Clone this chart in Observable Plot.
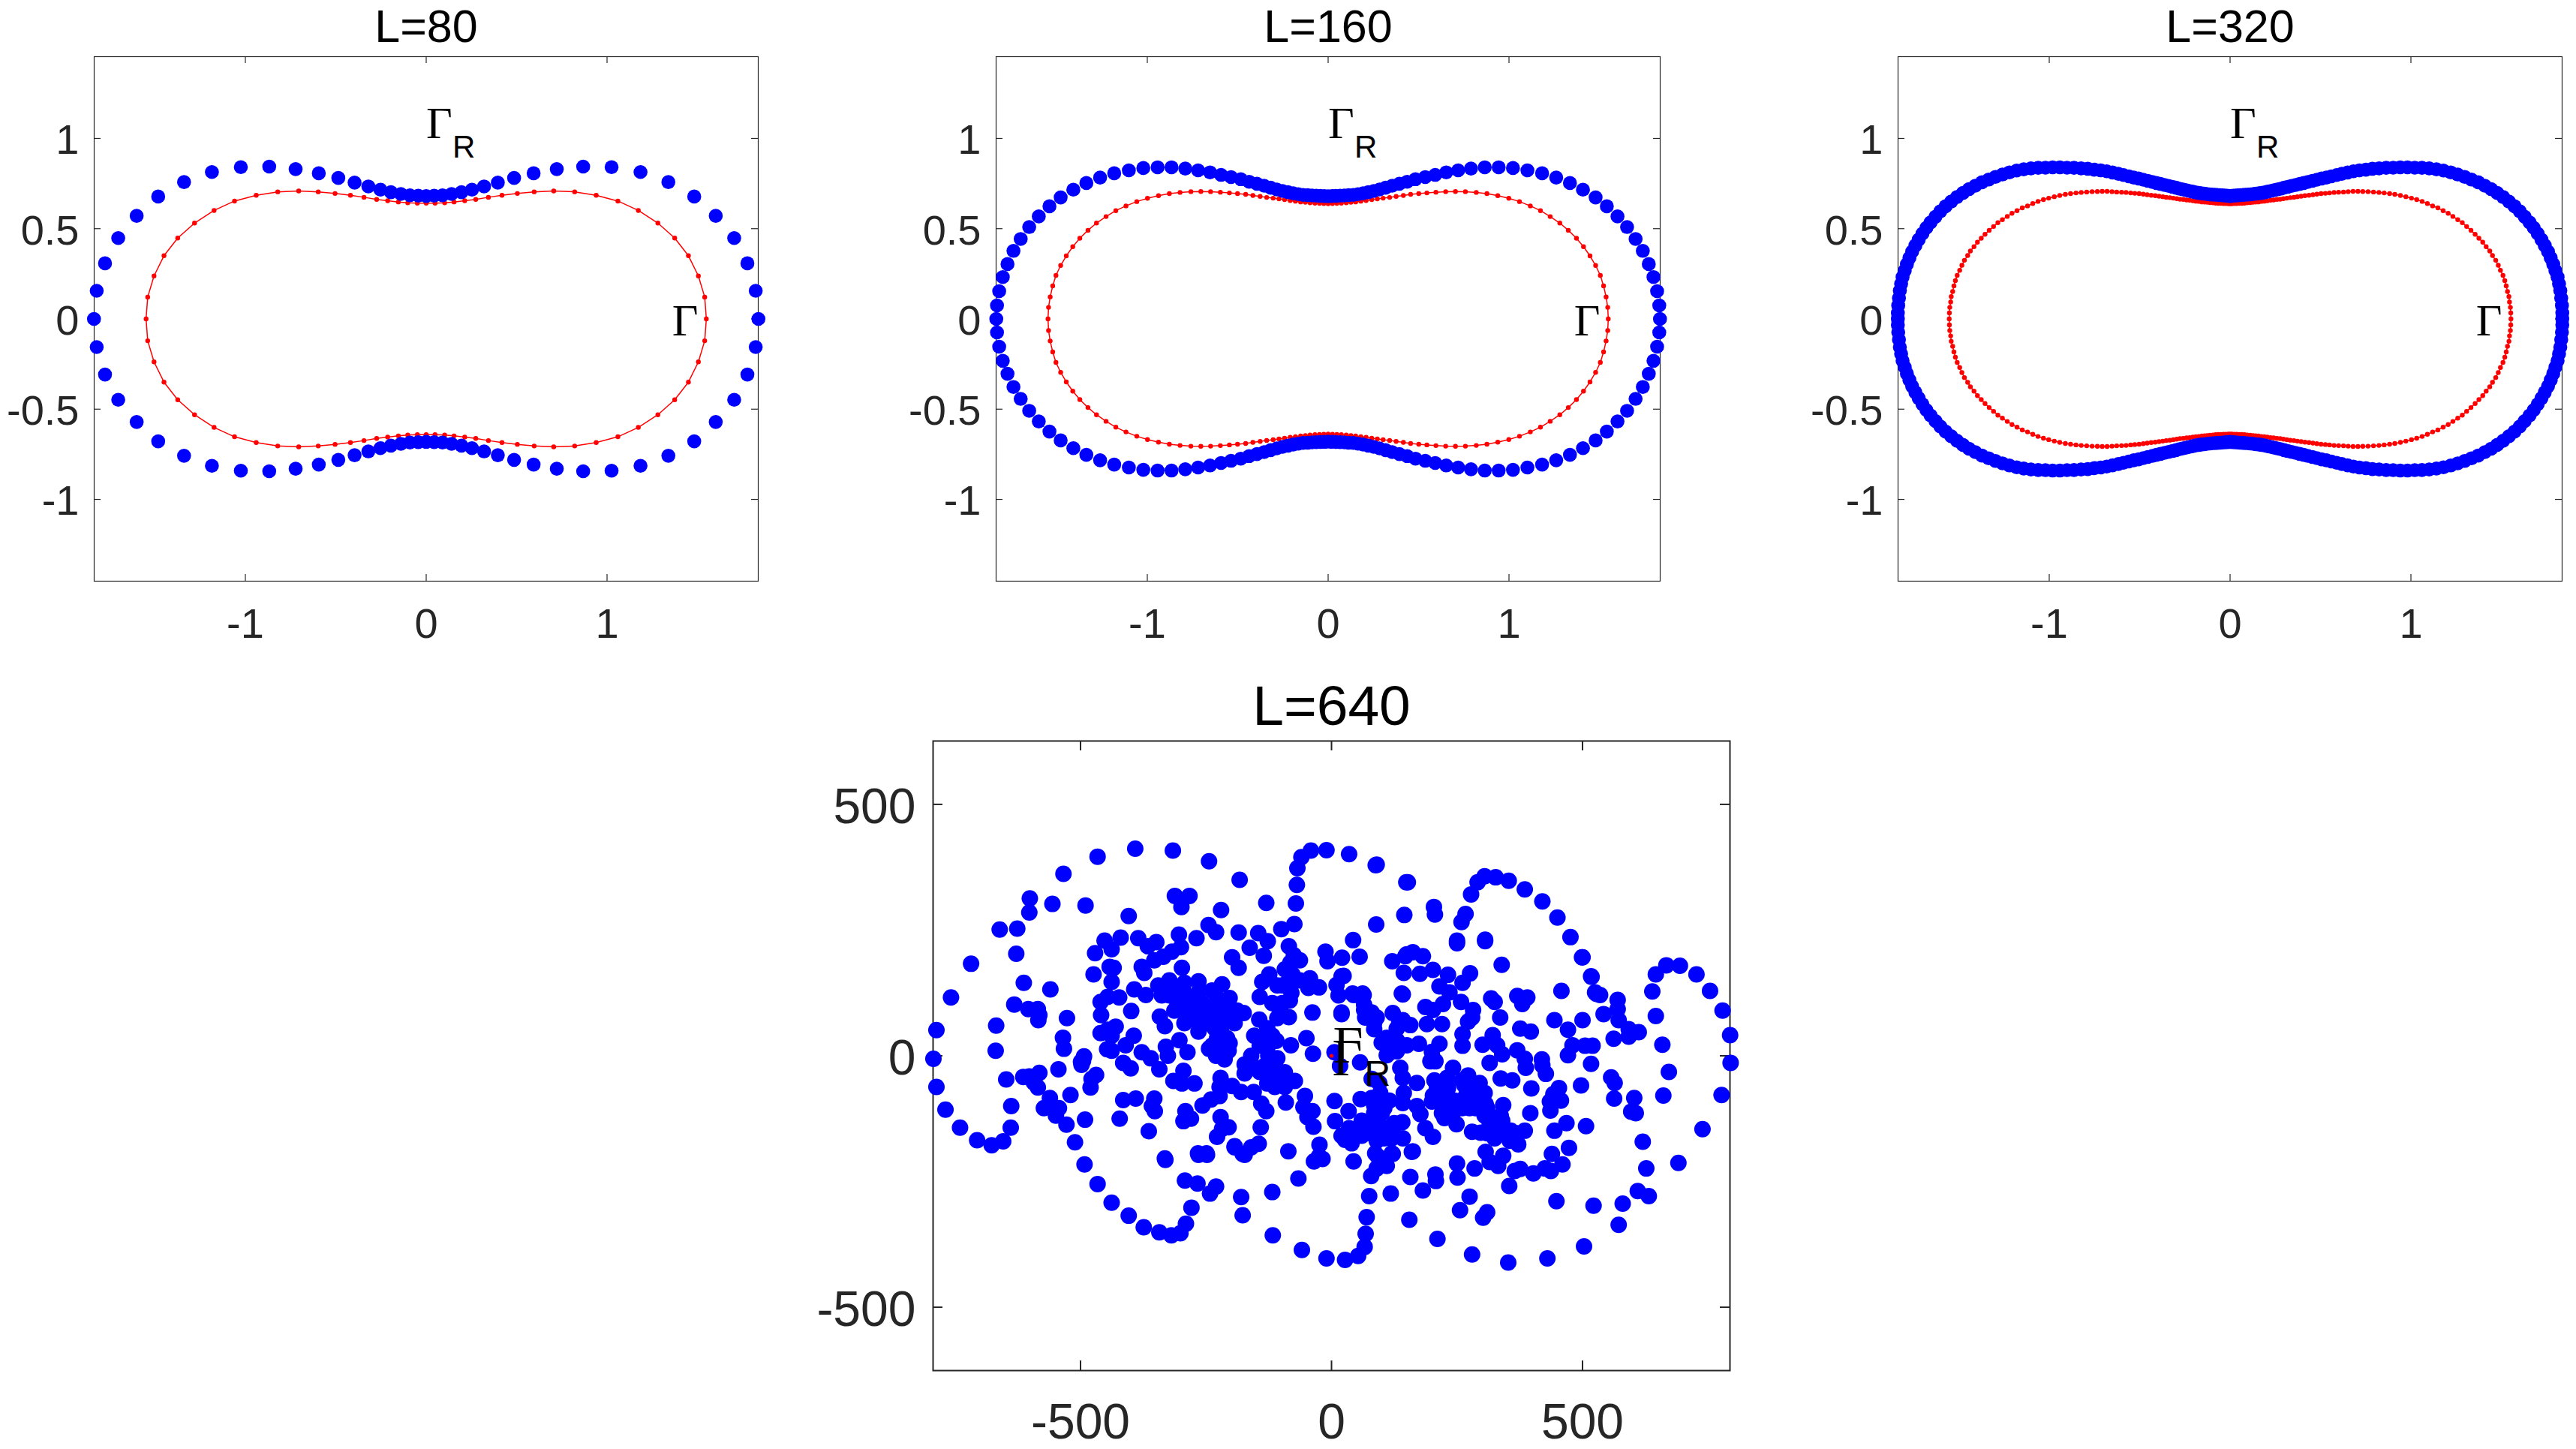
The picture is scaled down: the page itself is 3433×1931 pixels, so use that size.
<!DOCTYPE html>
<html><head><meta charset="utf-8">
<style>html,body{margin:0;background:#fff}#page{position:relative;width:3433px;height:1931px;overflow:hidden;background:#fff}#page svg{position:absolute;overflow:visible;max-width:none}</style>
<script src="https://cdn.jsdelivr.net/npm/d3@7"></script>
<script src="https://cdn.jsdelivr.net/npm/@observablehq/plot@0.6"></script>
</head><body><div id="page"></div>
<script>
// First-quadrant readings (x, y) for the closed curves; the curves are symmetric in both axes.
const gammaR80=[[1.837,0],[1.822,.156],[1.776,.308],[1.703,.448],[1.601,.571],[1.482,.678],[1.339,.758],[1.185,.814],[1.025,.841],[.868,.844],[.722,.83],[.594,.807],[.486,.781],[.396,.755],[.32,.734],[.253,.716],[.195,.702],[.14,.692],[.09,.685],[.044,.683],[0,.681]];
const gamma80=[[1.549,0],[1.54,.121],[1.505,.238],[1.45,.35],[1.374,.448],[1.281,.531],[1.173,.601],[1.06,.653],[.94,.685],[.821,.704],[.705,.709],[.597,.704],[.504,.695],[.419,.685],[.344,.674],[.274,.662],[.213,.655],[.154,.648],[.102,.643],[.049,.641],[0,.641]];
const gammaR160=[[1.835,0],[1.831,.075],[1.819,.154],[1.799,.232],[1.773,.304],[1.74,.377],[1.7,.443],[1.653,.509],[1.6,.568],[1.541,.624],[1.479,.673],[1.409,.716],[1.337,.753],[1.261,.783],[1.183,.807],[1.102,.823],[1.022,.836],[.943,.84],[.866,.84],[.79,.833],[.719,.823],[.653,.812],[.592,.798],[.537,.786],[.483,.774],[.437,.76],[.394,.749],[.354,.738],[.318,.727],[.284,.717],[.252,.709],[.222,.702],[.193,.696],[.165,.691],[.139,.687],[.113,.686],[.089,.684],[.066,.683],[.043,.682],[.021,.681],[0,.68]];
const gamma160=[[1.549,0],[1.546,.064],[1.537,.122],[1.523,.183],[1.505,.241],[1.479,.296],[1.448,.349],[1.412,.4],[1.373,.447],[1.328,.491],[1.281,.531],[1.228,.567],[1.174,.6],[1.118,.626],[1.058,.65],[.999,.668],[.938,.683],[.878,.694],[.819,.701],[.759,.705],[.704,.706],[.65,.705],[.596,.702],[.546,.698],[.501,.694],[.456,.69],[.416,.684],[.376,.679],[.34,.673],[.304,.669],[.272,.665],[.241,.661],[.21,.656],[.181,.652],[.152,.648],[.126,.646],[.1,.643],[.073,.641],[.048,.64],[.024,.639],[0,.638]];
const gammaR320=[[1.837,0],[1.837,.033],[1.835,.074],[1.831,.115],[1.826,.157],[1.819,.194],[1.811,.232],[1.799,.267],[1.787,.303],[1.773,.338],[1.758,.373],[1.74,.407],[1.722,.439],[1.701,.473],[1.679,.505],[1.656,.535],[1.629,.566],[1.602,.596],[1.573,.624],[1.542,.65],[1.51,.675],[1.477,.698],[1.444,.719],[1.409,.738],[1.372,.757],[1.335,.772],[1.297,.787],[1.259,.8],[1.22,.812],[1.18,.822],[1.141,.829],[1.101,.834],[1.061,.837],[1.021,.838],[.981,.84],[.941,.84],[.902,.838],[.863,.837],[.824,.834],[.787,.832],[.751,.827],[.715,.823],[.682,.818],[.65,.811],[.618,.804],[.589,.797],[.56,.79],[.533,.783],[.506,.778],[.48,.771],[.455,.765],[.43,.759],[.407,.753],[.385,.748],[.362,.742],[.34,.737],[.319,.732],[.299,.727],[.279,.721],[.26,.717],[.242,.713],[.225,.709],[.207,.705],[.191,.701],[.174,.698],[.159,.696],[.144,.694],[.129,.692],[.113,.69],[.1,.689],[.084,.688],[.071,.687],[.057,.686],[.043,.685],[.03,.684],[.017,.683],[.006,.682],[0,.681]];
const gamma320=[[1.553,0],[1.552,.033],[1.55,.064],[1.545,.094],[1.542,.124],[1.534,.152],[1.527,.183],[1.519,.212],[1.509,.241],[1.495,.269],[1.483,.297],[1.469,.325],[1.451,.351],[1.436,.376],[1.416,.4],[1.397,.425],[1.376,.447],[1.355,.469],[1.332,.491],[1.308,.512],[1.284,.533],[1.259,.55],[1.232,.568],[1.206,.585],[1.178,.6],[1.149,.615],[1.12,.626],[1.091,.639],[1.062,.651],[1.032,.661],[1.003,.669],[.972,.677],[.942,.684],[.911,.69],[.882,.694],[.852,.698],[.823,.701],[.793,.703],[.763,.705],[.734,.706],[.707,.707],[.68,.707],[.653,.705],[.627,.703],[.6,.702],[.575,.701],[.55,.698],[.527,.696],[.503,.694],[.48,.691],[.458,.688],[.436,.685],[.414,.683],[.393,.68],[.372,.677],[.353,.674],[.333,.672],[.314,.669],[.295,.666],[.277,.663],[.259,.662],[.241,.659],[.224,.658],[.206,.655],[.189,.652],[.173,.651],[.156,.648],[.141,.647],[.126,.646],[.111,.644],[.095,.643],[.08,.641],[.065,.64],[.051,.64],[.037,.639],[.024,.639],[.01,.638],[0,.638]];
// L=640: scattered points, read one by one.
const gammaR640=[[-787,51],[-793,-6],[-758,116],[-718,183],[-661,251],[-626,253],[-628,203],[-601,313],[-602,285],[-556,302],[-534,362],[-490,299],[-466,396],[-391,412],[-316,408],[-244,387],[-183,350],[-613,145],[-560,132],[-632,102],[-604,93],[-585,93],[-582,81],[-584,71],[-527,75],[-668,60],[-669,10],[-535,36],[-533,14],[-493,-1],[-499,-12],[-452,229],[-471,204],[-474,162],
[-68,373],[-69,340],[-71,303],[90,380],[152,345],[145,280],[89,261],[-130,304],[-312,318],[-283,318],[-299,296],[-404,278],[-220,290],[-245,260],[-230,246],[-269,234],[-185,245],[-146,244],[-127,228],[-163,215],[-135,199],[-100,252],[-74,262],[-304,241],[-420,235],[-385,234],[-349,226],[-366,218],[-318,207],[-300,216],[-335,197],[-353,190],[-378,177],[-373,165],[-298,175],[-438,212],[-434,175],[-198,196],[-185,175],[-85,218],[-75,200],[-63,190],[-82,185],[-12,207],[-8,188],[21,195],[56,197],[43,230],[121,188],[144,165],[150,202],[24,159],[10,141],[14,120],[44,121],[64,121],[142,122],[-43,154],[-25,136],[-46,135],[-124,162],[-138,147],[-143,117],[-93,172],[-78,162],[-98,140],[-80,125],[-83,110],[-110,102],[-100,85],[-85,77],[-144,72],[-38,86],[20,83],[-218,142],[-238,130],[-393,132],[-423,116],[-370,121],[-438,147],[-399,89],[-323,150],[-345,140],[-318,135],[-293,145],[-265,148],[-338,120],[-308,110],[-278,115],[-313,90],[-288,85],[-268,75],[-273,100],[-253,90],[-233,95],[-206,105],[-175,85],[-198,80],[-223,75],[-248,65],[-265,48],[-193,65],[-218,60],[-342,78],[-332,59],[-430,58],[-438,40],[-394,40],[-410,21],[-438,10],[-378,7],[-360,-5],[-343,-27],[-415,-14],[-400,-25],[-330,18],[-303,31],[-326,0],[-287,7],[-208,35],[-225,29],[-244,14],[-218,12],[-230,0],[-213,-7],[-205,10],[-154,40],[-138,35],[-118,40],[-110,30],[-128,15],[-143,20],[-81,21],[-50,35],[-37,4],[-160,0],[-173,-17],[-173,-35],[-113,-13],[-133,-20],[-143,-32],[-126,-45],[-108,-35],[-93,-33],[-73,-50],[-93,-62],[-113,-62],[6,7],[17,-20],[57,-13],[-295,-30],[-315,-50],[-298,-55],[-273,-55],[-221,-44],[-223,-62],[-198,-60],[-180,-72],[-155,-72],[-415,-88],[-390,-85],[-353,-85],[-358,-100],[-352,-110],[-223,-80],[-240,-87],[-257,-99],[-140,-95],[-130,-110],[-91,-93],[-53,-80],[-56,-102],[-38,-110],[-48,-122],[-36,-141],[-291,-110],[-280,-125],[-295,-130],[-221,-122],[-218,-145],[-205,-142],[-228,-161],[-422,-125],[-364,-150],[-141,-142],[-145,-175],[-160,-182],[-193,-182],[-173,-197],[-331,-207],[-265,-197],[-248,-197],[-86,-190],[-24,-177],[-25,-200],[-35,-210],[44,-210],[92,-200],[122,-195],[162,-190],[6,-90],[58,-86],[34,-110],[7,-130],[62,-135],[37,-150],[27,-167],
[162,206],[147,198],[182,198],[176,163],[202,171],[232,161],[250,224],[306,228],[339,181],[500,196],[518,157],[276,164],[261,145],[215,138],[235,126],[140,124],[42,124],[62,124],[20,158],[258,107],[282,91],[222,103],[187,97],[318,114],[325,107],[336,76],[370,119],[390,116],[380,103],[458,129],[525,126],[535,121],[570,111],[570,93],[542,83],[572,71],[592,53],[592,38],[562,34],[444,71],[500,71],[471,52],[20,86],[65,101],[80,86],[67,76],[85,66],[85,53],[122,85],[142,71],[157,61],[130,54],[110,36],[130,31],[100,26],[202,91],[190,63],[220,63],[280,76],[272,68],[261,43],[261,20],[376,54],[397,48],[321,41],[301,22],[330,21],[315,-14],[340,3],[370,11],[385,-6],[419,-7],[387,-24],[427,-36],[420,-19],[471,1],[480,21],[505,20],[520,20],[517,-16],[174,24],[150,21],[215,24],[200,8],[110,1],[130,9],[197,-11],[207,-11],[137,-24],[142,-44],[170,-54],[144,-74],[142,-94],[80,-46],[97,-74],[115,-89],[85,-99],[170,-100],[177,-116],[187,-144],[202,-161],[141,-132],[122,-149],[90,-127],[60,-129],[35,-144],[60,-159],[85,-154],[110,-144],[142,-164],[90,-169],[40,-174],[20,-159],[120,-164],[87,-194],[120,-194],[160,-191],[110,-219],[90,-224],[79,-239],[242,-24],[205,-49],[230,-44],[272,-39],[295,-54],[305,-74],[202,-79],[220,-69],[200,-91],[225,-94],[260,-49],[280,-74],[265,-59],[287,-104],[307,-96],[275,-104],[225,-124],[249,-136],[245,-109],[342,-98],[337,-119],[305,-119],[322,-136],[310,-154],[280,-151],[297,-153],[337,-149],[357,-149],[385,-149],[372,-176],[355,-169],[325,-164],[307,-191],[342,-199],[315,-211],[332,-219],[337,-45],[360,-49],[398,-65],[453,-64],[442,-76],[457,-89],[435,-91],[436,-109],[497,-59],[557,-43],[564,-54],[563,-85],[603,-84],[597,-111],[396,-114],[468,-134],[444,-149],[507,-140],[473,-183],[439,-195],[460,-216],[437,-229],[425,-224],[402,-234],[376,-225],[365,-229],[354,-259],[250,-214],[251,-242],[285,-224],[207,-236],[208,-249],[182,-268],[157,-241],[75,-279],[118,-274],[275,-280],[256,-307],[310,-311],[302,-322],[448,-289],[522,-298],[580,-294],[572,-336],[610,-269],[70,-321],[155,-326],[68,-354],[211,-364],
[-41,408],[-60,395],[-10,409],[35,401],[88,379],[149,345],[204,296],[206,281],[267,282],[259,266],[250,229],[306,231],[278,321],[291,345],[305,357],[327,355],[353,348],[385,331],[420,307],[450,275],[476,236],[499,196],[517,158],[528,123],[646,162],[667,180],[694,179],[727,162],[754,129],[779,90],[794,41],[639,128],[646,79],[659,22],[795,-14],[612,47],
[672,-32],[661,-79],[777,-78],[739,-146],[691,-213],[620,-171],[606,-114],[627,-224],[632,-279],[503,-379],[430,-403],[352,-411],[280,-395],[66,-380],[53,-398],[27,-406],[-10,-403],[-59,-386],[-117,-357],[-118,-271],[-66,-244],[-18,-205],[-180,-281],[-177,-317],
[-787,-62],[-769,-107],[-740,-143],[-706,-168],[-677,-178],[-654,-170],[-639,-143],[-638,-100],[-648,-47],[-614,-42],[-602,-41],[-582,-34],[-593,-53],[-585,-63],[-573,-104],[-561,-84],[-549,-119],[-543,-104],[-528,-137],[-544,-27],[-495,-10],[-498,-18],[-520,-78],[-491,-127],[-511,-172],[-492,-216],[-466,-255],[-438,-292],[-404,-318],[-374,-341],[-343,-351],[-319,-357],[-301,-353],[-290,-334],[-279,-302],[-292,-248],[-267,-254],[-242,-274],[-230,-260],[-332,-204],[-266,-194],[-249,-194],[-193,-180],[-177,-195],[-480,-63],[-469,-38],[-478,-46],[-442,177],[-460,107],[-446,117],[-459,81],[-460,45],[-446,52],[-447,13],
[-323,120],[-293,125],[-263,130],[-288,105],[-258,105],[-228,115],[-203,115],[-188,90],[-293,65],[-238,75],[-213,90],[-233,55],[-263,60],[-228,35],[-213,35],[-238,20],[-203,25],[-223,5],[-108,140],[-88,145],[-63,150],[-118,105],[-98,105],[-108,75],[-128,55],[-123,35],[-126,0],[-118,-15],[-108,-5],[-158,-20],[-98,-50],[-128,-55],
[85,-114],[100,-114],[75,-139],[100,-144],[125,-134],[40,-154],[70,-154],[105,-164],[95,-89],[105,-104],[80,-84],[95,-54],[210,-64],[232,-64],[220,-89],[245,-89],[270,-69],[265,-84],[290,-89],[235,-109],[220,-114],[260,-104],[315,-134],[310,-104],[340,-129],[370,-154],[125,26],[135,66],[115,6],[90,76],[65,91],[60,116]];
const gamma640=[[0,0]];
const titles=["L=80","L=160","L=320","L=640"];
const ticksTop=[-1,-0.5,0,0.5,1], ticksTopX=[-1,0,1], ticksBottom=[-500,0,500];

const ring=q=>{const top=[...q,...q.slice(0,-1).reverse().map(([x,y])=>[-x,y])];const bottom=top.slice(1,-1).reverse().map(([x,y])=>[x,-y]);return [...top,...bottom];};
const X=d=>d[0],Y=d=>d[1];
const ink="#262626";
function panel({left,top,w,h,xd,yd,xticks,yticks,blue,red,title,s}){
  const mL=125,mR=40,mT=top>500?100:75,mB=125;
  const tick=s.tick, H=h, W=w;
  const marks=[
    Plot.frame({stroke:ink,strokeWidth:s.frame}),
    Plot.tickX(xticks,{x:d=>d,stroke:ink,strokeWidth:s.frame,insetTop:H-tick}),
    Plot.tickX(xticks,{x:d=>d,stroke:ink,strokeWidth:s.frame,insetBottom:H-tick}),
    Plot.tickY(yticks,{y:d=>d,stroke:ink,strokeWidth:s.frame,insetRight:W-tick}),
    Plot.tickY(yticks,{y:d=>d,stroke:ink,strokeWidth:s.frame,insetLeft:W-tick}),
    Plot.axisX({ticks:xticks,anchor:"bottom",tickSize:0,tickPadding:s.padX,tickFormat:String,label:null,fontSize:s.tickFont,color:ink,dy:s.axisXDy}),
    Plot.axisY({ticks:yticks,anchor:"left",tickSize:0,tickPadding:s.padY,tickFormat:String,label:null,fontSize:s.tickFont,color:ink,dy:s.axisYDy})
  ];
  if(red.length>1){
    marks.push(Plot.line(red,{x:X,y:Y,stroke:"#ff0000",strokeWidth:1.5,curve:"linear-closed"}));
    marks.push(Plot.dot(red,{x:X,y:Y,r:3.2,fill:"#ff0000"}));
  }
  marks.push(Plot.dot(blue,{x:X,y:Y,r:s.r,fill:"#0000ff"}));
  if(red.length==1) marks.push(Plot.dot(red,{x:X,y:Y,r:2.6,fill:"#ff0000"}));
  marks.push(Plot.text([title],{frameAnchor:"top",lineAnchor:"bottom",dy:s.titleDy,fontSize:s.titleFont,fill:"#000",text:d=>d}));
  const lab=(t,x,y,dx,dy,fs,ff)=>Plot.text([t],{x:()=>x,y:()=>y,text:d=>d,textAnchor:"start",lineAnchor:"bottom",dx,dy,fontSize:fs,fontFamily:ff,fill:"#000"});
  marks.push(lab("\u0393",0,s.gy,s.g[0],s.g[1],s.gFont,"Liberation Serif"));
  marks.push(lab("R",0,s.gy,s.gr[0],s.gr[1],s.rFont,"Liberation Sans"));
  marks.push(lab("\u0393",s.gx,0,0,s.gd,s.gFont,"Liberation Serif"));
  const svg=Plot.plot({width:w+mL+mR,height:h+mT+mB,marginLeft:mL,marginRight:mR,marginTop:mT,marginBottom:mB,
    x:{domain:xd,label:null},y:{domain:yd,label:null},
    style:{fontFamily:"Liberation Sans",background:"transparent",overflow:"visible"},marks});
  svg.style.left=(left-mL)+"px";svg.style.top=(top-mT)+"px";svg.style.maxWidth="none";
  document.getElementById("page").appendChild(svg);
}
const sTop={tick:9,frame:1.2,r:9.3,padX:36,padY:20,tickFont:56,titleFont:61,titleDy:-20,g:[0,0],gr:[35,26],gy:1,gx:1.36,gd:22,gFont:60,rFont:42,axisXDy:0,axisYDy:3};
const sBig={tick:13,frame:2,r:11,padX:42,padY:23,tickFont:66,titleFont:75,titleDy:-22,g:[2,10],gr:[44,41],gy:1,gx:1.36,gd:26,gFont:69,rFont:48,axisXDy:2,axisYDy:4};
const tx=[-1.836,1.836],ty=[-1.453,1.453];
panel({left:125,top:75,w:885,h:699,xd:tx,yd:ty,xticks:ticksTopX,yticks:ticksTop,blue:ring(gammaR80),red:ring(gamma80),title:titles[0],s:sTop});
panel({left:1327,top:75,w:885,h:699,xd:tx,yd:ty,xticks:ticksTopX,yticks:ticksTop,blue:ring(gammaR160),red:ring(gamma160),title:titles[1],s:sTop});
panel({left:2529,top:75,w:885,h:699,xd:tx,yd:ty,xticks:ticksTopX,yticks:ticksTop,blue:ring(gammaR320),red:ring(gamma320),title:titles[2],s:sTop});
panel({left:1243,top:987,w:1062,h:839,xd:[-793.7,793.7],yd:[-626,626],xticks:ticksBottom,yticks:ticksBottom,blue:gammaR640,red:gamma640,title:titles[3],s:sBig});
</script></body></html>
